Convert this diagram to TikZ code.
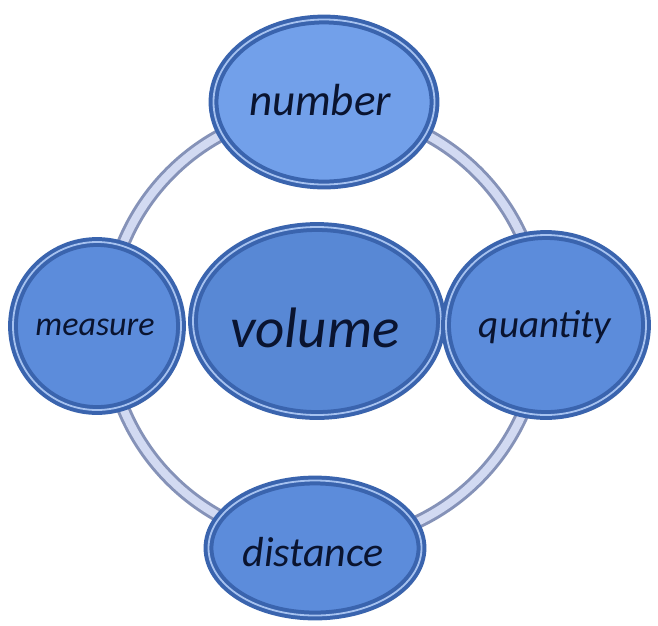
\documentclass[tikz,border=0pt]{standalone}
\usepackage{fontspec}
\setmainfont{Carlito}
\usetikzlibrary{shapes.geometric,shadows}
\definecolor{rimc}{HTML}{3A64AE}
\definecolor{rimlight}{HTML}{A6C2F0}
\definecolor{fillc}{HTML}{5C8CDB}
\definecolor{filllight}{HTML}{72A0EA}
\definecolor{fillvol}{HTML}{5888D5}
\definecolor{ringdark}{HTML}{8592B8}
\definecolor{ringlight}{HTML}{D2DAF2}
\definecolor{txt}{HTML}{0A1430}
\tikzset{
  bub/.style={ellipse, draw=rimc, line width=4pt, double=rimlight, double distance=1.8pt,
    fill=fillc, inner sep=0pt, text=txt,
    drop shadow={shadow xshift=3pt, shadow yshift=-4pt, opacity=0.35, fill=black!60}},
  lab/.style={font=\itshape\fontsize{#1}{#1}\selectfont}
}
\begin{document}
\begin{tikzpicture}[x=1pt,y=-1pt]
\useasboundingbox[fill=white] (0,0) rectangle (658,625);
% ring
\coordinate (rc) at (324,326);
\draw[ringdark, line width=14pt] (rc) circle[radius=217];
\draw[ringlight, line width=8pt] (rc) circle[radius=217];
% bubbles
\node[bub, fill=fillvol, minimum width=248pt, minimum height=188pt] (volume) at (317,321) {};
\node[lab=57, text=txt] (tvolume) at (315,328) {volume};
\node[bub, minimum width=168pt, minimum height=168pt] (measure) at (97,326) {};
\node[lab=34, text=txt] (tmeasure) at (95,327) {measure};
\node[bub, minimum width=200pt, minimum height=180pt] (quantity) at (546,325) {};
\node[lab=39, text=txt] (tquantity) at (545,327) {quantity};
\node[bub, fill=filllight, minimum width=221pt, minimum height=165pt] (number) at (324,102) {};
\node[lab=45, text=txt] (tnumber) at (320,100) {number};
\node[bub, minimum width=213pt, minimum height=135pt] (distance) at (315,548) {};
\node[lab=42, text=txt] (tdistance) at (313,552) {distance};
\end{tikzpicture}
\end{document}
